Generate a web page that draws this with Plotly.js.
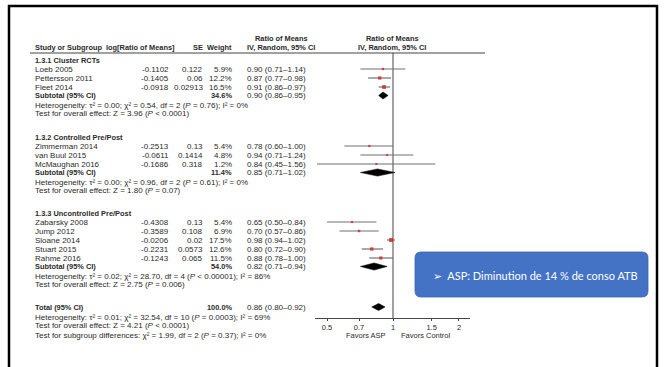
<!DOCTYPE html>
<html><head><meta charset="utf-8">
<script src="https://cdn.plot.ly/plotly-3.0.1.min.js"></script>
<style>html,body{margin:0;padding:0;background:#fff}#chart{width:665px;height:367px}</style>
</head><body><div id="chart"></div>
<script>
// ---------------- DATA ----------------
const subgroups = ["1.3.1 Cluster RCTs", "1.3.2 Controlled Pre/Post", "1.3.3 Uncontrolled Pre/Post"];
const studies = ["Loeb 2005","Pettersson 2011","Fleet 2014","Zimmerman 2014","van Buul 2015","McMaughan 2016","Zabarsky 2008","Jump 2012","Sloane 2014","Stuart 2015","Rahme 2016"];
const studyGroup = [0,0,0,1,1,1,2,2,2,2,2];
const logRoM = [-0.1102,-0.1405,-0.0918,-0.2513,-0.0611,-0.1686,-0.4308,-0.3589,-0.0206,-0.2231,-0.1243];
const se = [0.122,0.06,0.02913,0.13,0.1414,0.318,0.13,0.108,0.02,0.0573,0.065];
const weight = [5.9,12.2,16.5,5.4,4.8,1.2,5.4,6.9,17.5,12.6,11.5];
const rom = [0.90,0.87,0.91,0.78,0.94,0.84,0.65,0.70,0.98,0.80,0.88];
const ciLow = [0.71,0.77,0.86,0.60,0.71,0.45,0.50,0.57,0.94,0.72,0.78];
const ciHigh = [1.14,0.98,0.97,1.00,1.24,1.56,0.84,0.86,1.02,0.90,1.00];
const subWeight = [34.6,11.4,54.0];
const subRoM = [0.90,0.85,0.82];
const subLow = [0.86,0.71,0.71];
const subHigh = [0.95,1.02,0.94];
const subHet = [
  "Heterogeneity: τ² = 0.00; χ² = 0.54, df = 2 (<i>P</i> = 0.76); I² = 0%",
  "Heterogeneity: τ² = 0.00; χ² = 0.96, df = 2 (<i>P</i> = 0.61); I² = 0%",
  "Heterogeneity: τ² = 0.02; χ² = 28.70, df = 4 (<i>P</i> < 0.00001); I² = 86%"
];
const subTest = [
  "Test for overall effect: Z = 3.96 (<i>P</i> < 0.0001)",
  "Test for overall effect: Z = 1.80 (<i>P</i> = 0.07)",
  "Test for overall effect: Z = 2.75 (<i>P</i> = 0.006)"
];
const totalWeight = 100.0;
const totalRoM = 0.86, totalLow = 0.80, totalHigh = 0.92;
const totalHet = "Heterogeneity: τ² = 0.01; χ² = 32.54, df = 10 (<i>P</i> = 0.0003); I² = 69%";
const totalTest = "Test for overall effect: Z = 4.21 (<i>P</i> < 0.0001)";
const subgroupTest = "Test for subgroup differences: χ² = 1.99, df = 2 (<i>P</i> = 0.37); I² = 0%";
const tickVals = [0.5,0.7,1,1.5,2];
const tickText = ["0.5","0.7","1","1.5","2"];
const favorLeft = "Favors ASP", favorRight = "Favors Control";
const calloutText = "➢  ASP: Diminution de 14 % de conso ATB";

// ---------------- LAYOUT (pixel positions) ----------------
const W = 665, H = 367;
const colStudy = 33, colLogHead = 177, colLog = 171, colSE = 205, colWeight = 234, colCI = 245, colPlotHead = 392, colHead1 = 281;
const groupHeadY = [60, 137, 213];
const pitch = 9;
const studyY = [], subY = [], hetY = [], testY = [];
subgroups.forEach((g, gi) => {
  let y = groupHeadY[gi];
  studyGroup.forEach((sg, i) => { if (sg === gi) { y += pitch; studyY[i] = y; } });
  subY[gi] = y + 8.5; hetY[gi] = subY[gi] + 9.5; testY[gi] = hetY[gi] + 8.5;
});
const totalY = 307, totalHetY = 317, totalTestY = 325.5, subgroupTestY = 335.5;
const axisY = 318, lineTop = 53;

const FONT = "Liberation Sans, Arial, sans-serif";
const TXT = "#2a2a2a";
const ann = [];
function t(x, y, text, anchor, bold, size) {
  ann.push({xref:'x', yref:'y', x:x, y:y, text: bold ? '<b>'+text+'</b>' : text, showarrow:false,
    xanchor:anchor, yanchor:'middle', font:{family:FONT, size:size || (bold ? 7.4 : 8), color:TXT}});
}
const fmtCI = (m,l,h) => m.toFixed(2)+" ("+l.toFixed(2)+"–"+h.toFixed(2)+")";

// headers
t(colHead1, 38, "Ratio of Means", 'center', true);
t(colPlotHead, 38, "Ratio of Means", 'center', true);
t(colStudy, 47, "Study or Subgroup", 'left', true);
t(colLogHead, 47, "log[Ratio of Means]", 'right', true);
t(colSE, 47, "SE", 'right', true);
t(colWeight, 47, "Weight", 'right', true);
t(colCI, 47, "IV, Random, 95% CI", 'left', true);
t(colPlotHead, 47, "IV, Random, 95% CI", 'center', true);

subgroups.forEach((g, gi) => {
  t(colStudy, groupHeadY[gi], g, 'left', true);
  t(colStudy, subY[gi], "Subtotal (95% CI)", 'left', true);
  t(colWeight, subY[gi], subWeight[gi].toFixed(1)+"%", 'right', true);
  t(colCI, subY[gi], fmtCI(subRoM[gi], subLow[gi], subHigh[gi]), 'left', false);
  t(colStudy, hetY[gi], subHet[gi], 'left', false);
  t(colStudy, testY[gi], subTest[gi], 'left', false);
});
studies.forEach((s, i) => {
  t(colStudy, studyY[i], s, 'left', false);
  t(colLog, studyY[i], logRoM[i].toFixed(4), 'right', false);
  t(colSE, studyY[i], String(se[i]), 'right', false);
  t(colWeight, studyY[i], weight[i].toFixed(1)+"%", 'right', false);
  t(colCI, studyY[i], fmtCI(rom[i], ciLow[i], ciHigh[i]), 'left', false);
});
t(colStudy, totalY, "Total (95% CI)", 'left', true);
t(colWeight, totalY, totalWeight.toFixed(1)+"%", 'right', true);
t(colCI, totalY, fmtCI(totalRoM, totalLow, totalHigh), 'left', false);
t(colStudy, totalHetY, totalHet, 'left', false);
t(colStudy, totalTestY, totalTest, 'left', false);
t(colStudy, subgroupTestY, subgroupTest, 'left', false);
t(388, 335, favorLeft, 'right', false, 7.5);
t(399, 335, favorRight, 'left', false, 7.5);

ann.push({xref:'x', yref:'y', x:431, y:275, text:calloutText, showarrow:false, xanchor:'left', yanchor:'middle',
  font:{family:"Lato, Noto Sans, sans-serif", size:11, color:'#fff'}});

// ---------------- TRACES ----------------
const traces = [];
traces.push({x:[0], y:[0], xaxis:'x', yaxis:'y', mode:'markers', marker:{opacity:0}, hoverinfo:'skip', showlegend:false});
traces.push({x:[1,1], y:[lineTop, axisY], xaxis:'x2', yaxis:'y', mode:'lines', line:{color:'#444', width:1}, hoverinfo:'skip', showlegend:false});
const cx = [], cy = [];
studies.forEach((s,i) => { cx.push(ciLow[i], ciHigh[i], null); cy.push(studyY[i], studyY[i], null); });
traces.push({x:cx, y:cy, xaxis:'x2', yaxis:'y', mode:'lines', line:{color:'#707070', width:1.2}, hoverinfo:'skip', showlegend:false, connectgaps:false});
traces.push({x:rom, y:studyY, xaxis:'x2', yaxis:'y', mode:'markers',
  marker:{symbol:'square', color:'#d81010', size:weight.map(w => Math.max(2, 0.95*Math.sqrt(w))), line:{width:0}},
  hoverinfo:'skip', showlegend:false});
function diamond(m, l, h, y) {
  const hh = 3.6;
  traces.push({x:[l, m, h, m, l], y:[y, y-hh, y, y+hh, y], xaxis:'x2', yaxis:'y', mode:'lines', fill:'toself',
    fillcolor:'#000', line:{color:'#000', width:0.5}, hoverinfo:'skip', showlegend:false});
}
subgroups.forEach((g, gi) => diamond(subRoM[gi], subLow[gi], subHigh[gi], subY[gi]));
diamond(totalRoM, totalLow, totalHigh, totalY);

// ---------------- LAYOUT ----------------
const pxPerDec = 219.2, xOne = 393, axL = 315, axR = 470;
const layout = {
  width: W, height: H, margin:{l:0, r:0, t:0, b:0, pad:0},
  paper_bgcolor:'#fff', plot_bgcolor:'rgba(0,0,0,0)', showlegend:false,
  font:{family:FONT, size:8, color:TXT},
  xaxis:{domain:[0,1], range:[0,W], visible:false, fixedrange:true},
  yaxis:{domain:[0,1], range:[H,0], visible:false, fixedrange:true, anchor:'x'},
  xaxis2:{type:'log', domain:[axL/W, axR/W], range:[(axL-xOne)/pxPerDec, (axR-xOne)/pxPerDec],
    anchor:'free', position:(H-axisY)/H, showline:true, linecolor:'#444', linewidth:1,
    ticks:'outside', ticklen:2, tickcolor:'#444', tickwidth:1, tickvals:tickVals, ticktext:tickText,
    tickfont:{family:FONT, size:7.5, color:TXT}, showgrid:false, zeroline:false, fixedrange:true},
  shapes:[
    {type:'line', xref:'x', yref:'y', x0:30, x1:485, y0:lineTop, y1:lineTop, line:{color:'#444', width:1}},
    {type:'rect', xref:'x', yref:'y', x0:9, x1:657, y0:6, y1:420, line:{color:'#000', width:2.5}, fillcolor:'rgba(0,0,0,0)'},
    {type:'path', xref:'x', yref:'y', path:'M 421 252 H 642 Q 648 252 648 258 V 291 Q 648 297 642 297 H 421 Q 415 297 415 291 V 258 Q 415 252 421 252 Z',
      fillcolor:'#4472C4', line:{color:'#3a64b0', width:0.8}}
  ],
  annotations: ann
};
Plotly.newPlot('chart', traces, layout, {staticPlot:true, displayModeBar:false});
</script></body></html>
